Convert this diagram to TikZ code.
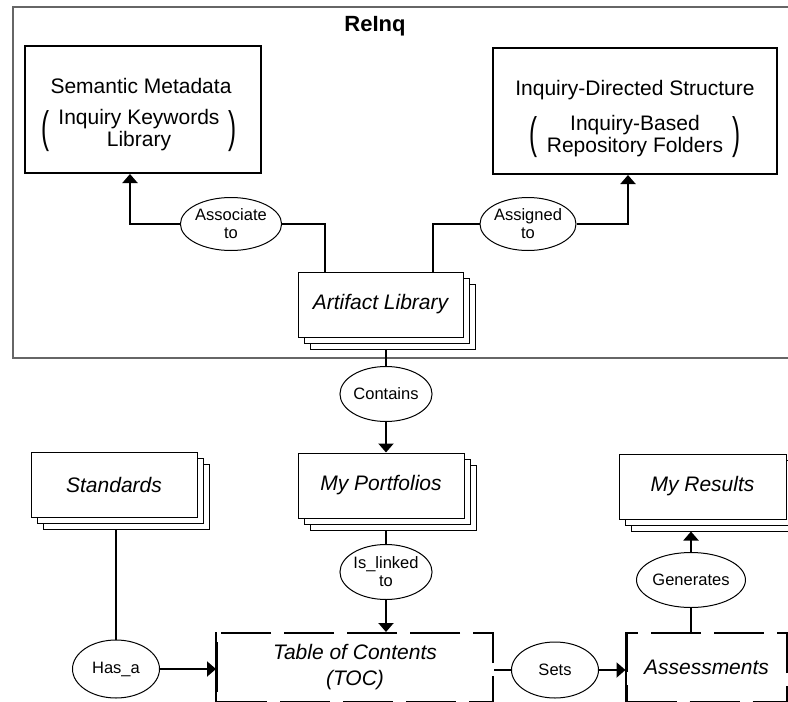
\documentclass[tikz,border=0pt]{standalone}
\usepackage{fontspec}
\setmainfont{Liberation Sans}
\usetikzlibrary{arrows.meta,calc,shapes.geometric,shadows}
\tikzstyle{link} = [line width=2pt]
\tikzstyle{arrow} = [line width=2pt,-{Triangle[width=15pt,length=9pt]}]
\tikzstyle{box} = [draw,line width=2pt,inner sep=0pt]
\tikzstyle{boxtext} = [inner sep=0pt,align=center,font=\fontsize{21}{21}\selectfont]
\tikzstyle{stack} = [draw,fill=white,line width=1pt,inner sep=0pt,font=\fontsize{21}{24}\selectfont\itshape,
  general shadow={shadow xshift=12pt,shadow yshift=-12pt,draw,fill=white},
  general shadow={shadow xshift=6pt,shadow yshift=-6pt,draw,fill=white}]
\tikzstyle{dbox} = [draw,line width=2pt,dash pattern=on 50pt off 13pt,inner sep=0pt,align=center,font=\fontsize{21}{26}\selectfont\itshape]
\tikzstyle{rel} = [draw,ellipse,line width=1pt,inner sep=0pt,align=center,font=\fontsize{16.5}{18}\selectfont]
\newcommand{\bigpar}[1]{\vcenter{\hbox{\scalebox{1.15}[2.1]{#1}}}}
\newcommand{\paren}[2]{$\bigpar{(}\mkern8mu\vcenter{\hbox{\renewcommand{\arraystretch}{1.05}\begin{tabular}{@{}c@{}}#1\\#2\end{tabular}}}\mkern8mu\bigpar{)}$}

\begin{document}
\begin{tikzpicture}[x=1pt,y=-1pt]
        \useasboundingbox (0,0) rectangle (788,702);
        % ReInq frame
        \draw[line width=1.5pt, black!60] (788,7) -- (13,7) -- (13,358) -- (788,358);
        \node[font=\fontsize{22}{24}\selectfont\bfseries] (title) at (375,26) {ReInq};

        \node[box, minimum width=236pt, minimum height=127pt] (sem) at (143,109.5) {};
        \node[boxtext] (semhead) at (141,86) {Semantic Metadata};
        \node[boxtext] (semsub) at (139,131) {\paren{Inquiry Keywords}{Library}};
        \node[box, minimum width=284pt, minimum height=126pt] (ids) at (635,111) {};
        \node[boxtext] (idshead) at (635,90) {Inquiry-Directed Structure};
        \node[boxtext] (idssub) at (635,137) {\paren{Inquiry-Based}{Repository Folders}};

        \node[stack, minimum width=165pt, minimum height=65pt] (art) at (380.5,304.5) {Artifact Library};
        \node[stack, minimum width=166pt, minimum height=65pt] (port) at (381,485.5) {My Portfolios};
        \node[stack, minimum width=166pt, minimum height=65pt] (std) at (114,484.5) {Standards};
        \node[stack, minimum width=167pt, minimum height=65pt] (res) at (702.5,486.5) {My Results};
        \node[dbox, minimum width=276pt, minimum height=69pt] (toc) at (355,667.5) {Table of Contents\\(TOC)};
        \node[dbox, minimum width=160pt, minimum height=69pt] (ass) at (706.5,667.5) {Assessments};
        \draw[link] (toc.north west) -- (toc.south west);
        \draw[link] (ass.north west) -- (ass.south west);

        \node[rel, minimum width=88pt, minimum height=53pt] (asc) at (231,224) {Associate\\to};
        \node[rel, minimum width=87pt, minimum height=53pt] (asg) at (528,224) {Assigned\\to};
        \node[rel, minimum width=88pt, minimum height=55pt] (con) at (386,394) {Contains};
        \node[rel, minimum width=88pt, minimum height=55pt] (lnk) at (386,572) {Is\_linked\\to};
        \node[rel, minimum width=87pt, minimum height=58pt] (has) at (116,669) {Has\_a};
        \node[rel, minimum width=87pt, minimum height=56pt] (sets) at (555,670) {Sets};
        \node[rel, minimum width=87pt, minimum height=55pt] (gen) at (691,580) {Generates};

        \draw[link] ([xshift=-55.5pt]art.north) |- (asc.east);
        \draw[arrow] (asc.west) -| ([xshift=-13pt]sem.south);
        \draw[link] ([xshift=52.5pt]art.north) |- (asg.west);
        \draw[arrow] (asg.east) -| ([xshift=-7pt]ids.south);
        \draw[link] ($(con.north |- art.south)+(0,12)$) -- (con.north);
        \draw[arrow] (con.south) -- (con.south |- port.north);
        \draw[link] ($(lnk.north |- port.south)+(0,12)$) -- (lnk.north);
        \draw[arrow] (lnk.south) -- (lnk.south |- toc.north);
        \draw[link] ($(has.north |- std.south)+(0,12)$) -- (has.north);
        \draw[arrow] (has.east) -- (has.east -| toc.west);
        \draw[link] (sets.west -| toc.east) -- (sets.west);
        \draw[arrow] (sets.east) -- (sets.east -| ass.west);
        \draw[link] (gen.south |- ass.north) -- (gen.south);
        \draw[arrow] (gen.north) -- ($(gen.north |- res.south)+(0,12)$);

      \end{tikzpicture}
\end{document}
